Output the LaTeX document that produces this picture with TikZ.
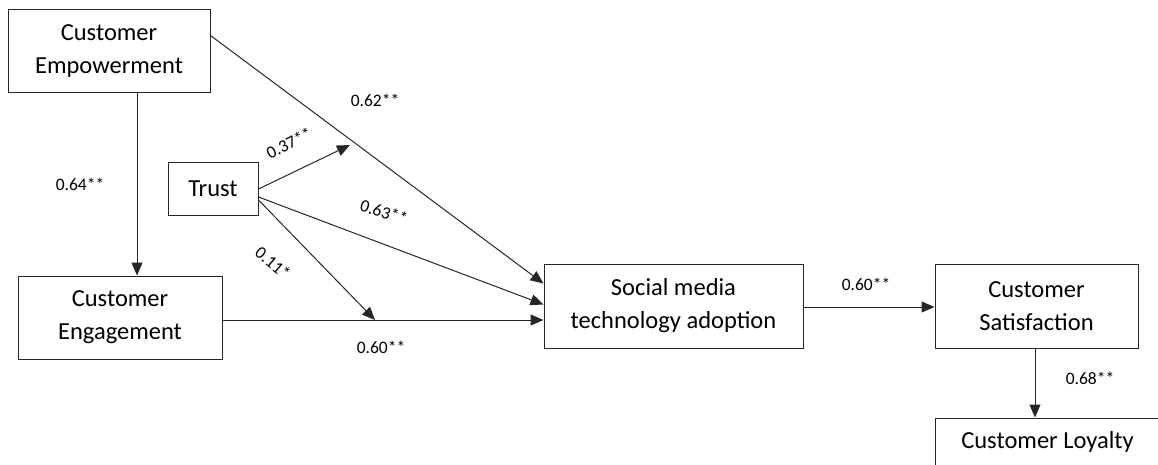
\documentclass[tikz,border=0pt]{standalone}
\usepackage{fontspec}
\setmainfont{Carlito}
\usetikzlibrary{arrows.meta}
\begin{document}
\begin{tikzpicture}[x=1pt,y=-1pt,
  box/.style={draw=black!85,line width=1pt,align=center,font=\fontsize{24.5}{33}\selectfont,inner sep=0pt},
  lab/.style={font=\fontsize{17.5}{20}\selectfont,inner sep=0pt},
  conn/.style={draw=black!85,line width=1pt},
  arr/.style={conn,-{Triangle[length=13pt,width=11pt]}}]
\useasboundingbox (0,0) rectangle (1158,465);
\node[box,minimum width=202pt,minimum height=83pt] (ce) at (109,51.5) {Customer\\Empowerment};
\node[box,minimum width=90pt,minimum height=52pt] (tr) at (213,189) {Trust};
\node[box,minimum width=204pt,minimum height=83pt] (eng) at (120,317.5) {Customer\\Engagement};
\node[box,minimum width=259pt,minimum height=84pt] (sm) at (673.5,306) {Social media\\technology adoption};
\node[box,minimum width=203pt,minimum height=84pt] (sat) at (1036.5,306) {Customer\\Satisfaction};
\node[box,minimum width=225pt,minimum height=48pt] (loy) at (1047.5,442) {Customer Loyalty};
\coordinate (m1) at (350,145);
\coordinate (m2) at (375,320);
% connectors
\draw[arr] ([yshift=-26pt]ce.north east) -- ([yshift=-20pt]sm.north west);
\draw[arr] (tr.east) -- (m1);
\draw[arr] ([yshift=-8pt]tr.east) -- ([yshift=-41pt]sm.north west);
\draw[arr] ([yshift=-11pt]tr.east) -- (m2);
\draw[arr] ([yshift=-2.5pt]eng.east) -- ([yshift=-14pt]sm.west);
\draw[arr] ([xshift=28pt]ce.south) -- ([xshift=17pt]eng.north);
\draw[arr] ([yshift=-1pt]sm.east) -- ([yshift=-1pt]sat.west);
\draw[arr] ([xshift=-1.5pt]sat.south) -- ([xshift=-12.5pt]loy.north);
% labels
\node[lab] (l1) at (375,100) {0.62**};
\node[lab,rotate=27] (l2) at (289,143) {0.37**};
\node[lab] (l3) at (80,184) {0.64**};
\node[lab,rotate=-17] (l4) at (384,212) {0.63**};
\node[lab,rotate=-40] (l5) at (273,263) {0.11*};
\node[lab] (l6) at (381,347) {0.60**};
\node[lab] (l7) at (866,284) {0.60**};
\node[lab] (l8) at (1090,378) {0.68**};
\end{tikzpicture}
\end{document}
